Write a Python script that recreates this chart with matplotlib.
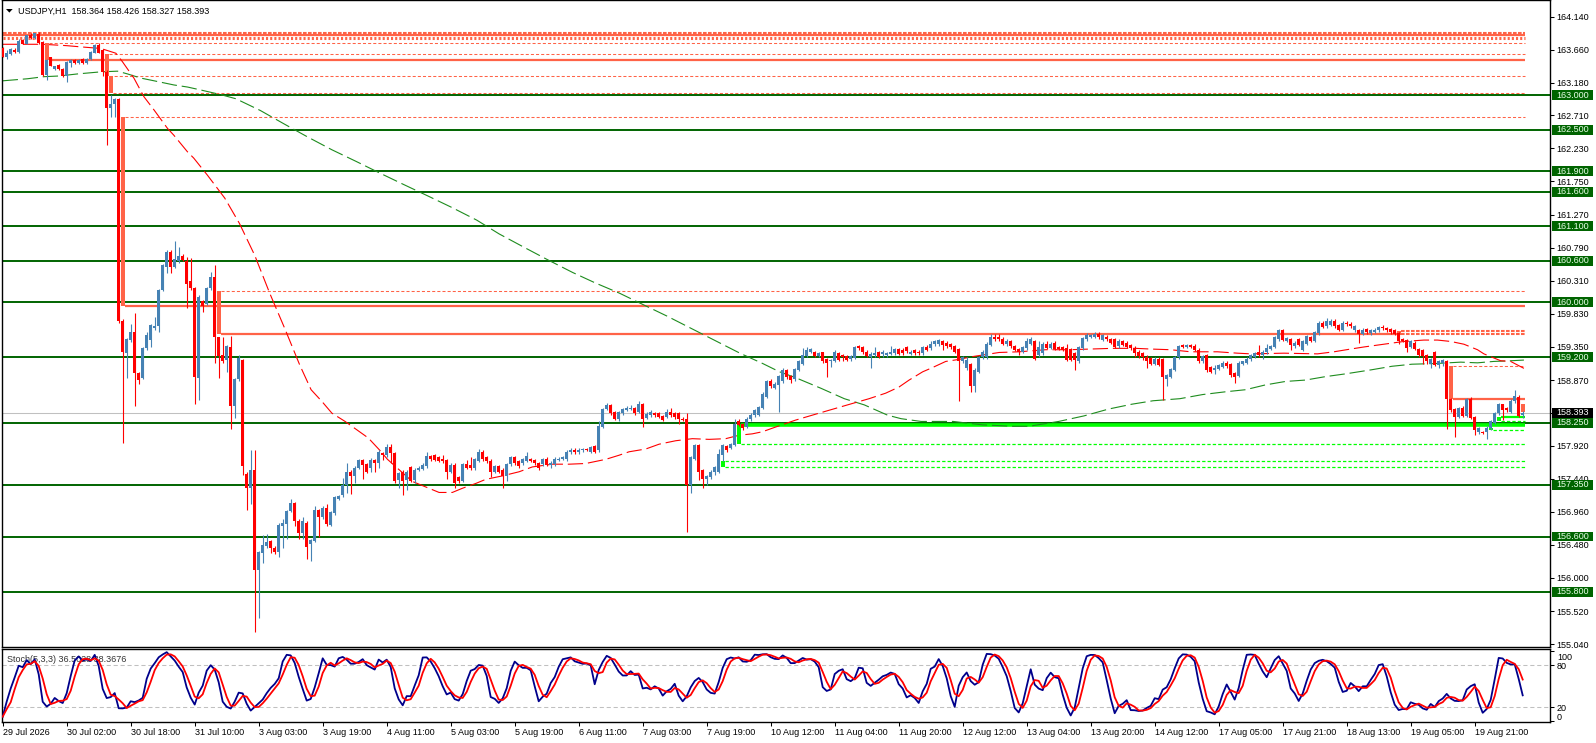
import numpy as np
import pandas as pd
import matplotlib
matplotlib.use("Agg")
import matplotlib.pyplot as plt
from matplotlib.patches import Rectangle, Polygon
from matplotlib.transforms import blended_transform_factory

plt.rcParams['font.family'] = ['Liberation Sans', 'DejaVu Sans']
plt.rcParams['lines.scale_dashes'] = False

symbol_title = "USDJPY,H1  158.364 158.426 158.327 158.393"
stoch_title = "Stoch(5,3,3) 36.5028 38.3676"

opens = [
 163.68,163.56,163.60,163.66,163.63,163.80,163.75,163.87,163.83,163.89,
 163.78,163.29,163.55,163.38,163.44,163.38,163.28,163.47,163.51,163.47,
 163.53,163.47,163.52,163.62,163.73,163.66,163.34,162.81,162.88,162.94,
 159.73,159.26,159.45,159.57,158.97,158.90,159.33,159.45,159.62,159.65,
 160.18,160.51,160.73,160.51,160.59,160.67,160.60,160.30,160.20,158.90,
 160.01,159.98,160.20,160.36,159.49,159.23,159.16,159.35,158.49,158.88,
 159.16,157.51,157.31,157.57,156.11,156.36,156.46,156.53,156.44,156.38,
 156.75,156.78,156.97,157.08,156.83,156.65,156.80,156.49,156.54,156.98,
 156.88,157.01,156.77,156.94,157.15,157.20,157.35,157.54,157.48,157.60,
 157.71,157.65,157.60,157.71,157.67,157.81,157.78,157.90,157.81,157.42,
 157.54,157.42,157.61,157.42,157.57,157.58,157.62,157.77,157.78,157.75,
 157.73,157.71,157.54,157.64,157.46,157.41,157.65,157.64,157.59,157.70,
 157.82,157.75,157.70,157.54,157.62,157.57,157.48,157.65,157.75,157.69,
 157.66,157.70,157.72,157.71,157.66,157.65,157.73,157.64,157.65,157.71,
 157.72,157.72,157.82,157.86,157.82,157.86,157.86,157.83,157.91,157.85,
 158.19,158.45,158.51,158.40,158.30,158.39,158.44,158.45,158.46,158.41,
 158.52,158.32,158.36,158.39,158.39,158.35,158.34,158.41,158.39,158.39,
 158.31,158.31,157.35,157.73,157.93,157.56,157.43,157.46,157.54,157.54,
 157.78,157.91,157.89,157.93,158.28,158.23,158.19,158.30,158.36,158.37,
 158.47,158.63,158.85,158.76,158.80,158.85,159.01,158.93,158.88,159.02,
 159.11,159.22,159.28,159.27,159.22,159.27,159.17,159.14,159.15,159.26,
 159.23,159.22,159.17,159.19,159.36,159.35,159.28,159.20,159.23,159.27,
 159.25,159.23,159.25,159.26,159.32,159.30,159.35,159.25,159.30,159.28,
 159.26,159.35,159.33,159.39,159.39,159.43,159.41,159.39,159.36,159.32,
 159.14,159.04,159.10,158.78,158.99,159.20,159.20,159.38,159.49,159.49,
 159.47,159.39,159.43,159.36,159.32,159.28,159.33,159.40,159.43,159.23,
 159.26,159.40,159.34,159.41,159.35,159.35,159.33,159.32,159.26,159.14,
 159.33,159.46,159.50,159.50,159.54,159.45,159.50,159.46,159.46,159.36,
 159.43,159.41,159.38,159.34,159.28,159.26,159.21,159.19,159.11,159.18,
 159.17,158.89,158.92,159.02,159.20,159.38,159.35,159.38,159.36,159.31,
 159.14,159.23,159.06,159.02,159.03,159.06,159.12,159.10,158.97,158.93,
 159.11,159.12,159.17,159.21,159.27,159.23,159.27,159.32,159.35,159.46,
 159.59,159.44,159.46,159.36,159.46,159.31,159.40,159.49,159.44,159.55,
 159.70,159.65,159.67,159.73,159.67,159.60,159.70,159.69,159.59,159.59,
 159.54,159.61,159.55,159.57,159.59,159.64,159.62,159.61,159.59,159.55,
 159.46,159.45,159.35,159.41,159.32,159.30,159.23,159.10,159.27,159.09,
 159.12,159.14,158.59,158.45,158.34,158.46,158.35,158.60,158.33,158.12,
 158.12,158.11,158.17,158.25,158.39,158.52,158.46,158.41,158.56,158.63,
 158.364]

highs = [
 163.70,163.66,163.68,163.68,163.82,163.82,163.88,163.91,163.91,163.92,
 163.79,163.52,163.56,163.43,163.45,163.39,163.50,163.52,163.52,163.52,
 163.54,163.54,163.64,163.74,163.76,163.67,163.36,163.00,162.96,162.96,
 159.76,159.48,159.69,159.84,158.99,159.35,159.57,159.69,159.78,160.19,
 160.56,160.75,160.75,160.88,160.80,160.70,160.65,160.64,160.22,160.10,
 160.03,160.22,160.44,160.54,159.50,159.50,159.38,159.51,158.90,159.23,
 159.18,157.53,157.86,157.86,156.39,156.62,156.64,156.55,156.46,156.79,
 156.85,156.99,157.14,157.10,156.85,156.89,156.82,156.57,157.04,157.00,
 157.04,157.07,156.97,157.19,157.21,157.45,157.67,157.56,157.62,157.73,
 157.73,157.67,157.74,157.73,157.85,157.83,157.95,157.94,157.83,157.54,
 157.56,157.56,157.63,157.59,157.62,157.66,157.83,157.79,157.80,157.77,
 157.78,157.73,157.66,157.66,157.48,157.67,157.71,157.76,157.74,157.87,
 157.86,157.77,157.72,157.64,157.64,157.59,157.67,157.77,157.77,157.71,
 157.74,157.82,157.74,157.73,157.68,157.74,157.75,157.69,157.75,157.75,
 157.77,157.85,157.88,157.88,157.88,157.89,157.88,157.92,157.93,158.27,
 158.47,158.54,158.53,158.42,158.42,158.47,158.49,158.51,158.48,158.57,
 158.54,158.40,158.44,158.41,158.41,158.37,158.45,158.46,158.41,158.41,
 158.33,158.39,157.77,157.94,157.95,157.58,157.50,157.56,157.62,157.87,
 157.95,157.93,157.96,158.30,158.30,158.25,158.33,158.39,158.45,158.50,
 158.69,158.87,158.88,158.84,158.95,159.04,159.03,158.95,159.05,159.16,
 159.33,159.35,159.33,159.29,159.28,159.28,159.19,159.18,159.31,159.28,
 159.25,159.24,159.24,159.36,159.38,159.37,159.30,159.27,159.35,159.29,
 159.30,159.28,159.36,159.34,159.34,159.33,159.37,159.30,159.32,159.30,
 159.37,159.38,159.43,159.45,159.47,159.45,159.43,159.41,159.38,159.34,
 159.22,159.21,159.12,159.04,159.22,159.31,159.42,159.54,159.54,159.54,
 159.49,159.46,159.45,159.38,159.34,159.37,159.48,159.49,159.45,159.43,
 159.42,159.43,159.42,159.43,159.37,159.37,159.40,159.34,159.28,159.37,
 159.50,159.55,159.54,159.56,159.56,159.54,159.52,159.48,159.48,159.46,
 159.45,159.43,159.40,159.36,159.30,159.28,159.23,159.21,159.20,159.20,
 159.19,158.96,159.05,159.22,159.38,159.40,159.40,159.40,159.39,159.33,
 159.24,159.25,159.08,159.09,159.11,159.14,159.14,159.12,158.99,159.14,
 159.15,159.20,159.25,159.28,159.38,159.30,159.39,159.38,159.51,159.61,
 159.61,159.50,159.48,159.43,159.48,159.45,159.53,159.51,159.58,159.72,
 159.73,159.77,159.75,159.75,159.69,159.72,159.73,159.71,159.67,159.61,
 159.62,159.62,159.61,159.62,159.66,159.67,159.64,159.62,159.61,159.57,
 159.48,159.47,159.45,159.43,159.34,159.32,159.25,159.19,159.29,159.16,
 159.17,159.16,158.61,158.47,158.48,158.49,158.61,158.62,158.35,158.19,
 158.13,158.20,158.29,158.41,158.54,158.53,158.48,158.59,158.73,158.65,
 158.426]

lows = [
 163.55,163.53,163.59,163.62,163.62,163.74,163.74,163.82,163.82,163.75,
 163.28,163.22,163.42,163.37,163.37,163.27,163.20,163.41,163.46,163.46,
 163.46,163.46,163.51,163.61,163.61,163.28,162.28,162.69,162.69,159.70,
 157.96,158.90,159.42,158.49,158.82,158.88,159.31,159.35,159.60,159.56,
 160.16,160.43,160.43,160.49,160.57,160.59,159.92,160.18,158.53,158.58,
 159.86,159.96,160.18,159.12,158.90,159.12,158.99,158.16,158.32,158.86,
 157.49,156.98,157.07,155.22,155.42,156.21,156.44,156.36,156.35,156.31,
 156.44,156.57,156.95,156.75,156.57,156.57,156.28,156.24,156.52,156.60,
 156.86,156.76,156.75,156.92,157.13,157.18,157.23,157.22,157.37,157.58,
 157.43,157.52,157.53,157.54,157.60,157.71,157.76,157.66,157.38,157.30,
 157.20,157.28,157.39,157.37,157.55,157.56,157.60,157.70,157.69,157.68,
 157.67,157.44,157.52,157.30,157.37,157.39,157.58,157.57,157.57,157.68,
 157.70,157.67,157.46,157.52,157.52,157.30,157.40,157.63,157.64,157.60,
 157.64,157.68,157.68,157.64,157.56,157.63,157.62,157.59,157.63,157.69,
 157.71,157.70,157.80,157.80,157.80,157.83,157.84,157.81,157.81,157.83,
 158.18,158.43,158.37,158.29,158.28,158.37,158.42,158.43,158.37,158.39,
 158.19,158.30,158.34,158.34,158.32,158.27,158.32,158.34,158.30,158.24,
 158.27,156.66,157.23,157.71,157.42,157.30,157.35,157.43,157.50,157.52,
 157.69,157.83,157.87,157.91,158.20,158.15,158.17,158.27,158.34,158.35,
 158.45,158.61,158.76,158.74,158.41,158.83,158.89,158.83,158.86,159.00,
 159.09,159.20,159.26,159.20,159.20,159.12,158.92,159.06,159.13,159.14,
 159.14,159.14,159.15,159.17,159.31,159.25,159.20,159.04,159.21,159.19,
 159.21,159.21,159.23,159.24,159.23,159.24,159.26,159.23,159.24,159.24,
 159.24,159.29,159.31,159.37,159.37,159.31,159.34,159.32,159.26,158.56,
 159.12,159.02,158.69,158.69,158.97,159.18,159.18,159.36,159.43,159.44,
 159.38,159.37,159.34,159.29,159.23,159.26,159.31,159.38,159.16,159.21,
 159.24,159.32,159.32,159.30,159.30,159.29,159.14,159.14,159.01,159.12,
 159.31,159.44,159.48,159.48,159.47,159.43,159.44,159.39,159.34,159.34,
 159.36,159.33,159.31,159.21,159.19,159.16,159.04,159.09,159.09,159.07,
 158.58,158.78,158.90,159.00,159.18,159.33,159.33,159.33,159.29,159.12,
 159.12,158.99,158.97,158.96,159.01,159.04,159.05,158.92,158.83,158.91,
 159.09,159.10,159.15,159.19,159.21,159.17,159.25,159.30,159.33,159.44,
 159.43,159.42,159.30,159.34,159.36,159.29,159.38,159.42,159.42,159.53,
 159.62,159.63,159.65,159.63,159.58,159.58,159.66,159.63,159.57,159.41,
 159.52,159.54,159.53,159.55,159.57,159.60,159.57,159.54,159.52,159.39,
 159.42,159.28,159.33,159.30,159.21,159.11,159.11,159.04,159.07,159.05,
 159.08,158.16,158.41,158.04,158.32,158.33,158.33,158.30,158.07,158.09,
 158.09,158.01,158.15,158.23,158.37,158.29,158.41,158.39,158.54,158.33,
 158.327]

closes = [
 163.56,163.61,163.67,163.63,163.79,163.75,163.87,163.83,163.90,163.76,
 163.29,163.51,163.43,163.42,163.38,163.28,163.49,163.51,163.47,163.51,
 163.47,163.53,163.63,163.73,163.62,163.34,162.81,162.88,162.94,159.73,
 159.27,159.46,159.57,158.97,158.87,159.33,159.52,159.67,159.65,160.18,
 160.54,160.73,160.51,160.62,160.67,160.61,160.26,160.20,158.91,160.08,
 159.94,160.20,160.37,159.49,159.22,159.14,159.36,158.49,158.88,159.19,
 157.62,157.30,157.57,156.11,156.37,156.48,156.52,156.44,156.37,156.77,
 156.80,156.97,157.09,156.82,156.65,156.82,156.45,156.55,156.98,156.88,
 157.02,156.78,156.95,157.17,157.19,157.35,157.54,157.48,157.60,157.71,
 157.64,157.53,157.71,157.66,157.83,157.78,157.90,157.81,157.40,157.52,
 157.41,157.54,157.41,157.57,157.60,157.64,157.77,157.72,157.71,157.70,
 157.69,157.54,157.64,157.38,157.41,157.65,157.60,157.59,157.72,157.82,
 157.72,157.69,157.54,157.62,157.54,157.48,157.65,157.75,157.66,157.62,
 157.72,157.77,157.70,157.66,157.60,157.72,157.64,157.67,157.73,157.73,
 157.75,157.83,157.86,157.82,157.86,157.87,157.85,157.90,157.83,158.20,
 158.45,158.51,158.39,158.31,158.40,158.45,158.46,158.46,158.39,158.52,
 158.31,158.38,158.40,158.36,158.33,158.29,158.41,158.36,158.34,158.30,
 158.29,157.35,157.75,157.93,157.54,157.43,157.48,157.54,157.61,157.80,
 157.93,157.85,157.94,158.24,158.22,158.17,158.31,158.36,158.44,158.48,
 158.67,158.85,158.78,158.82,158.93,159.02,158.91,158.87,159.03,159.14,
 159.23,159.31,159.32,159.22,159.26,159.14,159.12,159.16,159.27,159.16,
 159.20,159.16,159.22,159.35,159.33,159.27,159.22,159.25,159.26,159.21,
 159.28,159.26,159.28,159.32,159.25,159.26,159.29,159.28,159.26,159.26,
 159.35,159.31,159.40,159.43,159.45,159.38,159.36,159.35,159.28,159.14,
 159.20,159.16,158.78,159.02,159.20,159.28,159.40,159.50,159.47,159.46,
 159.40,159.44,159.36,159.31,159.28,159.35,159.43,159.46,159.17,159.35,
 159.40,159.34,159.40,159.32,159.32,159.31,159.16,159.16,159.16,159.35,
 159.48,159.52,159.52,159.54,159.49,159.52,159.46,159.41,159.35,159.44,
 159.38,159.35,159.33,159.26,159.22,159.20,159.14,159.11,159.18,159.09,
 158.91,158.94,159.03,159.20,159.36,159.35,159.38,159.35,159.31,159.14,
 159.22,159.01,158.99,159.04,159.09,159.12,159.07,158.94,158.92,159.12,
 159.14,159.18,159.23,159.26,159.23,159.28,159.34,159.36,159.49,159.59,
 159.45,159.48,159.38,159.41,159.38,159.43,159.51,159.44,159.56,159.70,
 159.64,159.72,159.72,159.65,159.60,159.70,159.68,159.65,159.65,159.54,
 159.60,159.56,159.59,159.60,159.64,159.62,159.59,159.56,159.54,159.44,
 159.44,159.33,159.43,159.32,159.23,159.22,159.14,159.17,159.09,159.14,
 159.16,158.59,158.43,158.33,158.46,158.35,158.59,158.32,158.14,158.17,
 158.10,158.18,158.27,158.39,158.52,158.43,158.43,158.57,158.64,158.35,
 158.393]

x_tick_labels = ["29 Jul 2026", "30 Jul 02:00", "30 Jul 18:00", "31 Jul 10:00",
                 "3 Aug 03:00", "3 Aug 19:00", "4 Aug 11:00", "5 Aug 03:00",
                 "5 Aug 19:00", "6 Aug 11:00", "7 Aug 03:00", "7 Aug 19:00",
                 "10 Aug 12:00", "11 Aug 04:00", "11 Aug 20:00", "12 Aug 12:00",
                 "13 Aug 04:00", "13 Aug 20:00", "14 Aug 12:00", "17 Aug 05:00",
                 "17 Aug 21:00", "18 Aug 13:00", "19 Aug 05:00", "19 Aug 21:00"]
x_tick_step = 16

price_ticks = [164.14, 163.66, 163.18, 162.71, 162.23, 161.75, 161.27, 160.79,
               160.31, 159.83, 159.35, 158.87, 158.39, 157.92, 157.44, 156.96,
               156.48, 156.00, 155.52, 155.04]

support_levels = [163.0, 162.5, 161.9, 161.6, 161.1, 160.6, 160.0, 159.2,
                  158.25, 157.35, 156.6, 155.8]
bid_price = 158.393

ma_fast = [(0, 163.74), (10, 163.74), (16, 163.72), (20, 163.70), (24.5, 163.68),
           (28.3, 163.61), (29.9, 163.49), (32.8, 163.25), (35.3, 162.98),
           (37.8, 162.79), (41.2, 162.52), (42.8, 162.42), (46.2, 162.18),
           (47.75, 162.09), (51.2, 161.84), (55.5, 161.51), (59.2, 161.14),
           (63, 160.68), (66.75, 160.13), (70.5, 159.62), (74.25, 159.09),
           (77.1, 158.73), (79.8, 158.56), (82.3, 158.39), (85.6, 158.27),
           (88.5, 158.15), (91.4, 158.03), (94.3, 157.85), (96.2, 157.72),
           (99.1, 157.57), (102.4, 157.40), (105.75, 157.32), (109.1, 157.24),
           (112.4, 157.24), (114.9, 157.30), (118.25, 157.37), (120.75, 157.43),
           (124.9, 157.48), (129.1, 157.54), (132.4, 157.61), (137.4, 157.65),
           (141.6, 157.65), (145.75, 157.66), (148.25, 157.69), (150.75, 157.72),
           (154.1, 157.78), (156.6, 157.83), (160.75, 157.87), (164.1, 157.94),
           (168.25, 157.99), (172.4, 158.02), (176.6, 158.01), (180.75, 158.02),
           (184.1, 158.07), (187.4, 158.09), (189.9, 158.12), (192.8, 158.18),
           (198.25, 158.29), (204.1, 158.39), (208.25, 158.46), (212.4, 158.53),
           (216.6, 158.60), (220.75, 158.68), (224.1, 158.77), (226.6, 158.87),
           (230, 158.99), (232.4, 159.05), (235.75, 159.14), (239.1, 159.17),
           (242.4, 159.21), (249.1, 159.27), (254.1, 159.28), (260.75, 159.31),
           (266.6, 159.31), (272, 159.32), (277.4, 159.33), (283.25, 159.33),
           (287, 159.32), (292, 159.31), (297, 159.28), (303.7, 159.28),
           (308.7, 159.26), (312, 159.25), (320.3, 159.26), (328.7, 159.25),
           (332.8, 159.28), (337, 159.32), (340.3, 159.35), (345.3, 159.39),
           (350.3, 159.43), (355.3, 159.45), (358.7, 159.45), (362, 159.43),
           (365.3, 159.39), (368.7, 159.31), (370.3, 159.25), (374.5, 159.15),
           (377, 159.14), (380.3, 159.04)]

ma_slow = [(0, 163.21), (6.2, 163.24), (10.3, 163.27), (14.1, 163.28), (18.7, 163.31),
           (24.5, 163.34), (28.7, 163.35), (31.2, 163.31), (34.5, 163.25),
           (38.7, 163.20), (42.8, 163.15), (46.2, 163.12), (49.3, 163.08),
           (54.5, 163.01), (58.3, 162.95), (64.4, 162.78), (70.5, 162.58),
           (76.1, 162.40), (82.3, 162.21), (88.4, 162.04), (94, 161.88),
           (100.1, 161.71), (106.3, 161.54), (112.4, 161.37), (118.5, 161.19),
           (124.1, 160.99), (130.2, 160.80), (136.4, 160.61), (142.5, 160.43),
           (148.1, 160.28), (154.2, 160.13), (159.9, 159.97), (166, 159.80),
           (172.1, 159.62), (178.2, 159.44), (184.3, 159.26), (190, 159.11),
           (194.2, 158.99), (198, 158.91), (204.6, 158.75), (210.4, 158.60),
           (215.4, 158.51), (221.25, 158.36), (224.6, 158.31), (229.6, 158.27),
           (237.6, 158.27), (245, 158.22), (252.4, 158.20), (256.6, 158.20),
           (264, 158.27), (270.3, 158.35), (276.5, 158.45), (282.3, 158.52),
           (287.6, 158.57), (294.3, 158.60), (300, 158.66), (305.7, 158.70),
           (310.7, 158.73), (315.7, 158.80), (320.7, 158.85), (325.7, 158.87),
           (330.7, 158.92), (335.7, 158.96), (342.3, 159.02), (347.3, 159.07),
           (352.3, 159.10), (358.3, 159.11), (364.5, 159.13), (368.7, 159.12),
           (372.7, 159.14), (377, 159.15), (380.3, 159.16)]

supply_zone_bar = [11, 26, 27, 30, 54, 349, 362, 380]
supply_zone_top = [163.754, 163.60, 163.28, 162.68, 160.16, 159.58, 159.07, 158.52]
supply_zone_bottom = [163.512, 163.28, 163.03, 159.95, 159.54, 159.52, 158.59, 158.41]

supply_line_start = [0, 0, 0, 11.5, 11.5, 26.5, 26.5, 27.5, 30.5, 30.5, 54.5, 54.5,
                     349.5, 349.5, 362.5, 362.5]
supply_line_end = [380.5, 380.5, 380.5, 380.5, 380.5, 380.5, 380.5, 380.5, 380.5,
                   380.5, 380.5, 348.5, 380.5, 380.5, 380.5, 380.5]
supply_line_price = [163.90, 163.88, 163.835, 163.754, 163.512, 163.60, 163.28,
                     163.03, 162.68, 159.95, 160.16, 159.54, 159.575, 159.545,
                     159.07, 158.59]
supply_line_style = ['dash_bold', 'solid', 'dot', 'dash', 'solid', 'dash', 'dash',
                     'dash', 'dash', 'solid', 'dash', 'solid', 'dash_bold',
                     'dash_bold', 'dash', 'solid']

demand_zone_bar = [180, 184, 372, 374]
demand_zone_top = [157.70, 158.24, 158.18, 158.33]
demand_zone_bottom = [157.61, 157.95, 158.14, 158.28]
demand_line_start = [180.5, 180.5, 184.5, 184.5, 372.5, 374.5, 374.5]
demand_line_price = [157.70, 157.61, 158.215, 157.95, 158.14, 158.33, 158.28]
demand_line_style = ['dash', 'dash', 'thick', 'dash', 'dash', 'solid', 'dash']

# ---------------------------------------------------------------------------
W, H = 1596, 743
fig = plt.figure(figsize=(W / 100, H / 100), dpi=100)
fig.patch.set_facecolor('white')

left_px, right_px = 2.3, 1550.0
main_top_px, main_bot_px = 0.0, 647.3
st_top_px, st_bot_px = 649.3, 722.3


def frac_box(top_px, bot_px):
    return [left_px / W, (H - bot_px) / H, (right_px - left_px) / W, (bot_px - top_px) / H]


ax = fig.add_axes(frac_box(main_top_px, main_bot_px))
ax2 = fig.add_axes(frac_box(st_top_px, st_bot_px))

o = np.array(opens, dtype=float)
c = np.array(closes, dtype=float)
h = np.maximum(np.array(highs, dtype=float), np.maximum(o, c))
l = np.minimum(np.array(lows, dtype=float), np.minimum(o, c))
n = len(c)
x = np.arange(n)

px_per_bar = 4.0
xlim = (-(2.7 - left_px) / px_per_bar, (right_px - 2.7) / px_per_bar)
py = 68.95
ylim = (164.14 - (main_bot_px - 16.7) / py, 164.14 + (16.7 - main_top_px) / py)
ax.set_xlim(*xlim)
ax.set_ylim(*ylim)

TOMATO = '#FF6347'
DGREEN = '#006400'
LIME = '#00FF00'

# support / resistance levels
for v in support_levels:
    ax.axhline(v, color=DGREEN, lw=1.4, zorder=1.2)

# bid line
ax.axhline(bid_price, color='#C0C0C0', lw=0.75, zorder=1.1)

# supply lines
styles_red = {
    'dash': dict(lw=0.75, dashes=(2.2, 1.5)),
    'dash_bold': dict(lw=1.5, dashes=(2.6, 1.0)),
    'solid': dict(lw=1.6),
    'dot': dict(lw=2.2, dashes=(1.5, 1.5)),
}
for s, e, p, st in zip(supply_line_start, supply_line_end, supply_line_price, supply_line_style):
    ax.plot([s, e], [p, p], color=TOMATO, zorder=1.5, solid_capstyle='butt', **styles_red[st])

for b, t, bt in zip(supply_zone_bar, supply_zone_top, supply_zone_bottom):
    ax.add_patch(Rectangle((b - 0.5, bt), 1.0, t - bt, facecolor=TOMATO, edgecolor='none', zorder=2.5))

# demand lines
styles_green = {
    'dash': dict(lw=0.9, dashes=(2.4, 1.5)),
    'thick': dict(lw=2.6),
    'solid': dict(lw=1.6),
}
for s, p, st in zip(demand_line_start, demand_line_price, demand_line_style):
    ax.plot([s, 380.5], [p, p], color=LIME, zorder=1.6, solid_capstyle='butt', **styles_green[st])
for b, t, bt in zip(demand_zone_bar, demand_zone_top, demand_zone_bottom):
    ax.add_patch(Rectangle((b - 0.5, bt), 1.0, t - bt, facecolor=LIME, edgecolor='none', zorder=2.5))

# moving averages
mfx, mfy = zip(*ma_fast)
msx, msy = zip(*ma_slow)
ax.plot(msx, msy, color='#1E8C1E', lw=0.8, dashes=(11, 3.5), zorder=2)
ax.plot(mfx, mfy, color='#FF0000', lw=0.8, dashes=(11, 3.5), zorder=2)

# candles
up = c >= o
cols = np.where(up, '#4682B4', '#FF0000')
ax.vlines(x, l, h, colors=cols, lw=0.8, zorder=3)
body_bot = np.minimum(o, c)
body_h = np.maximum(np.abs(c - o), 0.014)
ax.bar(x, body_h, bottom=body_bot, width=0.65, color=cols, linewidth=0, zorder=4)

# axes styling main
ax.set_xticks([])
ax.yaxis.tick_right()
ax.set_yticks(price_ticks)
ax.set_yticklabels([f"{v:.3f}" for v in price_ticks])
ax.tick_params(axis='y', direction='out', length=2.9, width=0.75, pad=2.0,
               labelsize=6.5, colors='black')
for sp in ax.spines.values():
    sp.set_color('black')
    sp.set_linewidth(1.0)

trans = blended_transform_factory(ax.transAxes, ax.transData)
ax_w_px = right_px - left_px
box_x0 = (1552 - left_px) / ax_w_px
box_w = (1593 - 1552) / ax_w_px
txt_x = (1556.5 - left_px) / ax_w_px
half = 4.9 / py
for v in support_levels:
    ax.add_patch(Rectangle((box_x0, v - half), box_w, 2 * half, transform=trans,
                           facecolor=DGREEN, edgecolor='none', clip_on=False, zorder=6))
    ax.text(txt_x, v, f"{v:.3f}", transform=trans, ha='left', va='center',
            fontsize=6.5, color='#E8FFE8', zorder=7, clip_on=False)
ax.add_patch(Rectangle((box_x0, bid_price - half), box_w, 2 * half, transform=trans,
                       facecolor='black', edgecolor='none', clip_on=False, zorder=6))
ax.text(txt_x, bid_price, f"{bid_price:.3f}", transform=trans, ha='left', va='center',
        fontsize=6.5, color='white', zorder=7, clip_on=False)

# title
fig.text(18.3 / W, 1 - 10.9 / H, symbol_title, ha='left', va='center', fontsize=6.5, color='black')
tri = Polygon([(6 / W, 1 - 9.0 / H), (12.7 / W, 1 - 9.0 / H), (9.35 / W, 1 - 12.6 / H)],
              closed=True, transform=fig.transFigure, facecolor='black', edgecolor='none')
fig.patches.append(tri)

# stochastic (5,3,3)
hs, ls, cs = pd.Series(h), pd.Series(l), pd.Series(c)
hh = hs.rolling(5, min_periods=1).max()
ll = ls.rolling(5, min_periods=1).min()
num = (cs - ll).rolling(3, min_periods=1).sum()
den = (hh - ll).rolling(3, min_periods=1).sum()
k_line = 100 * num / den
d_line = k_line.rolling(3, min_periods=1).mean()

st_pp = (st_bot_px - st_top_px)
unit = 0.7
ax2.set_xlim(*xlim)
ax2.set_ylim(0 - (st_bot_px - 721.3) / unit, 100 + (651.3 - st_top_px) / unit)
for lv in (80, 20):
    ax2.axhline(lv, color='#C0C0C0', lw=0.75, dashes=(3, 2), zorder=1)
ax2.plot(x, k_line.values, color='#00008B', lw=1.3, zorder=3)
ax2.plot(x, d_line.values, color='#FF0000', lw=1.3, zorder=4)
trans2 = blended_transform_factory(ax2.transAxes, ax2.transData)
ax2.text((7 - left_px) / ax_w_px, 100 - (659 - 651.3) / unit, stoch_title, transform=trans2,
         ha='left', va='center', fontsize=6.5, color='#333333', zorder=2)

ax2.yaxis.tick_right()
ax2.set_yticks([100, 80, 20, 0])
ax2.set_yticklabels(['', '80', '20', ''])
ax2.tick_params(axis='y', direction='out', length=2.9, width=0.75, pad=2.0, labelsize=6.5)
lab_x = (1557 - left_px) / ax_w_px
ax2.text(lab_x, 100 - (657.4 - 651.3) / unit, '100', transform=trans2, ha='left',
         va='center', fontsize=6.5, clip_on=False)
ax2.text(lab_x, (721.3 - 717.6) / unit, '0', transform=trans2, ha='left',
         va='center', fontsize=6.5, clip_on=False)

xt = np.arange(len(x_tick_labels)) * x_tick_step
ax2.set_xticks(xt)
ax2.set_xticklabels(x_tick_labels)
ax2.tick_params(axis='x', direction='out', length=2.6, width=0.75, pad=1.8, labelsize=6.5)
for lab in ax2.get_xticklabels():
    lab.set_horizontalalignment('left')
for sp in ax2.spines.values():
    sp.set_color('black')
    sp.set_linewidth(1.0)

fig.savefig('out.png', dpi=100)
